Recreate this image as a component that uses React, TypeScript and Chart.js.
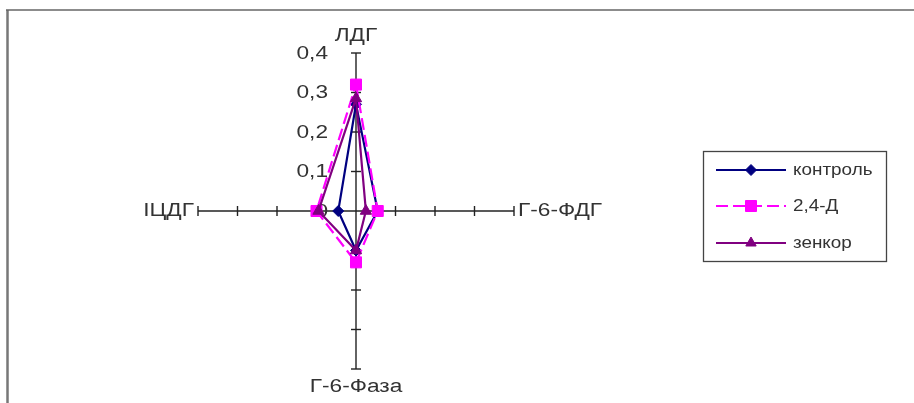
import React, { useEffect, useRef } from 'react';
import { Chart, registerables } from 'chart.js';

Chart.register(...registerables);

const categories = ['ЛДГ', 'Г-6-ФДГ', 'Г-6-Фаза', 'ІЦДГ'];
const seriesNames = ['контроль', '2,4-Д', 'зенкор'];
const kontrolValues = [0.27, 0.055, 0.1, 0.045];
const d24Values = [0.32, 0.055, 0.13, 0.1];
const zenkorValues = [0.285, 0.025, 0.1, 0.095];
const tickLabels = ['0', '0,1', '0,2', '0,3', '0,4'];
const scaleMin = 0;
const scaleMax = 0.4;
const scaleStep = 0.1;

const colors = ['#000080', '#FF00FF', '#800080'];
const pointStyles = ['rectRot', 'rect', 'triangle'];

const AXIS_SX = 1.26;
const AXIS_FONT = '18px "Liberation Sans", Arial, sans-serif';
const LEG_SX = 1.18;
const LEG_FONT = '16px "Liberation Sans", Arial, sans-serif';
const TEXT_COLOR = '#333333';

function drawText(ctx: CanvasRenderingContext2D, s: string, x: number, y: number, align: CanvasTextAlign, baseline: CanvasTextBaseline, sx: number) {
  ctx.save();
  ctx.translate(x, y);
  ctx.scale(sx, 1);
  ctx.textAlign = align;
  ctx.textBaseline = baseline;
  ctx.fillText(s, 0, 0);
  ctx.restore();
}

function drawMarker(ctx: CanvasRenderingContext2D, style: string, x: number, y: number, color: string) {
  ctx.save();
  ctx.fillStyle = color;
  ctx.strokeStyle = color;
  ctx.lineWidth = 1;
  ctx.setLineDash([]);
  ctx.beginPath();
  if (style === 'rectRot') {
    const r = 5.5;
    ctx.moveTo(x, y - r);
    ctx.lineTo(x + r, y);
    ctx.lineTo(x, y + r);
    ctx.lineTo(x - r, y);
    ctx.closePath();
  } else if (style === 'rect') {
    const h = 5.5;
    ctx.rect(x - h, y - h, 2 * h, 2 * h);
  } else {
    const r = 6;
    ctx.moveTo(x, y - r);
    ctx.lineTo(x + r * 0.866, y + r * 0.5);
    ctx.lineTo(x - r * 0.866, y + r * 0.5);
    ctx.closePath();
  }
  ctx.fill();
  ctx.stroke();
  ctx.restore();
}

const decorPlugin = {
  id: 'decor',
  beforeDatasetsDraw(chart: any) {
    const ctx: CanvasRenderingContext2D = chart.ctx;
    const r = chart.scales.r;
    ctx.save();
    ctx.strokeStyle = '#222222';
    ctx.lineWidth = 1.4;
    for (let i = 0; i < categories.length; i++) {
      const ang = r.getIndexAngle(i) - Math.PI / 2;
      const px = -Math.sin(ang);
      const py = Math.cos(ang);
      r.ticks.forEach((t: any) => {
        if (t.value === 0) return;
        const p = r.getPointPositionForValue(i, t.value);
        ctx.beginPath();
        ctx.moveTo(p.x + px * 5, p.y + py * 5);
        ctx.lineTo(p.x - px * 5, p.y - py * 5);
        ctx.stroke();
      });
    }
    ctx.fillStyle = TEXT_COLOR;
    ctx.font = AXIS_FONT;
    r.ticks.forEach((t: any) => {
      const p = r.getPointPositionForValue(0, t.value);
      drawText(ctx, String(t.label), p.x - 28, p.y + 1, 'right', 'middle', AXIS_SX);
    });
    const p0 = r.getPointPositionForValue(0, scaleMax);
    drawText(ctx, categories[0], p0.x, p0.y - 12, 'center', 'alphabetic', AXIS_SX);
    const p1 = r.getPointPositionForValue(1, scaleMax);
    drawText(ctx, categories[1], p1.x + 4, p1.y + 5, 'left', 'alphabetic', AXIS_SX);
    const p2 = r.getPointPositionForValue(2, scaleMax);
    drawText(ctx, categories[2], p2.x, p2.y + 23, 'center', 'alphabetic', AXIS_SX);
    const p3 = r.getPointPositionForValue(3, scaleMax);
    drawText(ctx, categories[3], p3.x - 4, p3.y + 5, 'right', 'alphabetic', AXIS_SX);
    ctx.restore();
  },
  afterDraw(chart: any) {
    const ctx: CanvasRenderingContext2D = chart.ctx;
    ctx.save();
    ctx.strokeStyle = '#777777';
    ctx.lineWidth = 2.5;
    ctx.beginPath();
    ctx.moveTo(7.5, 10);
    ctx.lineTo(7.5, 403);
    ctx.stroke();
    ctx.lineWidth = 1.5;
    ctx.strokeStyle = '#666666';
    ctx.beginPath();
    ctx.moveTo(6, 10);
    ctx.lineTo(914, 10);
    ctx.stroke();

    ctx.strokeStyle = '#444444';
    ctx.lineWidth = 1.3;
    ctx.strokeRect(703.5, 151.5, 183, 110);
    const rowsY = [170, 206, 243];
    chart.data.datasets.forEach((ds: any, i: number) => {
      const y = rowsY[i];
      ctx.save();
      ctx.strokeStyle = ds.borderColor;
      ctx.lineWidth = 2;
      ctx.setLineDash(ds.borderDash || []);
      ctx.beginPath();
      ctx.moveTo(716, y);
      ctx.lineTo(786, y);
      ctx.stroke();
      ctx.restore();
      drawMarker(ctx, ds.pointStyle, 751, y, ds.borderColor);
      ctx.fillStyle = TEXT_COLOR;
      ctx.font = LEG_FONT;
      drawText(ctx, ds.label, 793, y + 1, 'left', 'middle', LEG_SX);
    });
    ctx.restore();
  },
};

export default function App() {
  const canvasRef = useRef<HTMLCanvasElement | null>(null);

  useEffect(() => {
    const canvas = canvasRef.current;
    if (!canvas) return;
    const valuesList = [kontrolValues, d24Values, zenkorValues];
    const dashes = [[], [12, 5], []];
    const radii = [5.5, 7.8, 6.5];
    const orders = [2, 1, 0];
    const chart = new Chart(canvas, {
      type: 'radar',
      data: {
        labels: categories,
        datasets: seriesNames.map((name, i) => ({
          label: name,
          data: valuesList[i],
          borderColor: colors[i],
          backgroundColor: colors[i],
          pointBackgroundColor: colors[i],
          pointBorderColor: colors[i],
          pointStyle: pointStyles[i],
          pointRadius: radii[i],
          pointBorderWidth: 1,
          borderWidth: 2.2,
          borderDash: dashes[i],
          fill: false,
          tension: 0,
          order: orders[i],
        })),
      } as any,
      options: {
        animation: false,
        responsive: false,
        devicePixelRatio: 1,
        layout: { padding: { left: 198, right: 400, top: 53, bottom: 34 } },
        plugins: {
          legend: { display: false },
          tooltip: { enabled: false },
        },
        scales: {
          r: {
            min: scaleMin,
            max: scaleMax,
            beginAtZero: true,
            ticks: {
              display: false,
              stepSize: scaleStep,
              callback: (_v: any, i: number) => tickLabels[i],
            },
            grid: { display: false },
            angleLines: { display: true, color: '#222222', lineWidth: 1.4 },
            pointLabels: { display: false },
          },
        },
      } as any,
      plugins: [decorPlugin],
    });
    return () => chart.destroy();
  }, []);

  return (
    <div style={{ position: 'fixed', left: 0, top: 0, width: 914, height: 403, background: '#ffffff' }}>
      <canvas ref={canvasRef} width={914} height={403} style={{ display: 'block' }} />
    </div>
  );
}
